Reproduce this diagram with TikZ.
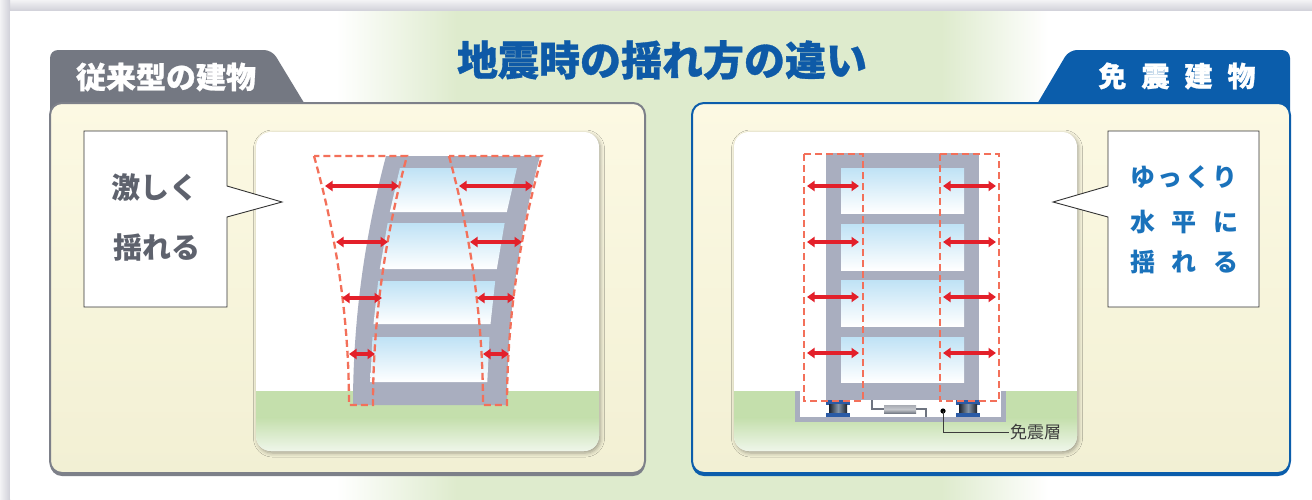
\documentclass[tikz,border=0pt]{standalone}
\usepackage{fontspec}
\newfontfamily\jp{Noto Sans CJK JP}
\newfontfamily\jpheavy[FakeBold=0.8]{Noto Sans CJK JP}
\usetikzlibrary{arrows.meta,shadows.blur}

\definecolor{titleblue}{HTML}{0E5AA7}
\definecolor{tabgray}{HTML}{747882}
\definecolor{edgegray}{HTML}{7D8089}
\definecolor{isoblue}{HTML}{0B5DAB}
\definecolor{creamtop}{HTML}{FCF9E3}
\definecolor{creambot}{HTML}{F2F0D4}
\definecolor{glowgreen}{HTML}{DEEBCD}
\definecolor{framegray}{HTML}{A9AEBF}
\definecolor{glassblue}{HTML}{BFE2F5}
\definecolor{grass}{HTML}{C4DFAC}
\definecolor{grasslight}{HTML}{EFF6EA}
\definecolor{quakered}{HTML}{E3202A}
\definecolor{swayred}{HTML}{F3705A}
\definecolor{speechgray}{HTML}{5E626D}
\definecolor{speechblue}{HTML}{1A72BB}
\definecolor{padblue}{HTML}{2B5BA6}
\definecolor{rubber}{HTML}{1C2430}
\definecolor{rubberhi}{HTML}{8595A8}
\definecolor{shadowgray}{HTML}{D0D0D8}
\definecolor{paper}{HTML}{F3F3F5}
\definecolor{damper}{HTML}{6E7480}
\definecolor{labelgray}{HTML}{3C3C3C}

% soft green band behind the title and between the panels
\pgfdeclarehorizontalshading{midglow}{100bp}{color(0bp)=(white); color(25bp)=(white);
  color(33.5bp)=(glowgreen); color(67.5bp)=(glowgreen); color(75bp)=(white); color(100bp)=(white)}

\begin{document}
\begin{tikzpicture}[x=1pt,y=-1pt,
  declare function={
    bl(\v)=353+33*((405-\v)/249)^2;  br(\v)=bl(\v)+154;
    dol(\v)=349-35*((405-\v)/249)^2; dil(\v)=373+34*((405-\v)/249)^2;
    dir(\v)=483-34*((405-\v)/249)^2; dor(\v)=507+35*((405-\v)/249)^2;},
  swayline/.style={draw=swayred, line width=2.3pt, dash pattern=on 7pt off 4pt},
  quakearrow/.style={draw=quakered, line width=3.3pt,
    {Triangle[length=7.5pt,width=10pt]}-{Triangle[length=7.5pt,width=10pt]}},
  pane/.style={top color=glassblue, bottom color=white},
  scenebox/.style={fill=white, rounded corners=15pt,
    blur shadow={shadow xshift=1.5pt, shadow yshift=-2pt, shadow blur radius=4pt, shadow opacity=35}},
  bubble/.style={fill=white, draw=black!80, line width=0.9pt},
  tabtext/.style={text=white, font=\jpheavy\bfseries\fontsize{30}{30}\selectfont},
  leftsay/.style={text=speechgray, font=\jp\bfseries\fontsize{29}{29}\selectfont},
  rightsay/.style={text=speechblue, font=\jp\bfseries\fontsize{25}{25}\selectfont},
  dampline/.style={draw=damper, line width=1.6pt},
]
\useasboundingbox (0,0) rectangle (1312,499);

% sheet with its shadow
\shade[top color=paper, bottom color=shadowgray] (0,0) rectangle (1312,11);
\shade[left color=paper, right color=shadowgray] (0,0) rectangle (10,499);
\fill[white] (10,11) rectangle (1312,499);
\fill[shading=midglow] (336,11) rectangle (1048,499);

% title
\node[text=titleblue, font=\jpheavy\bfseries\fontsize{41}{41}\selectfont] (title) at (662,60) {地震時の揺れ方の違い};

% tabs
\fill[tabgray, rounded corners=8pt] (50,118) -- (50,50) -- (272,50) -- (312,116) -- cycle;
\fill[isoblue, rounded corners=8pt] (1030,116) -- (1069,50) -- (1290,50) -- (1290,118) -- cycle;
\node[tabtext] (lefttab) at (166,77) {従来型の建物};
\node[tabtext, font=\jpheavy\bfseries\fontsize{28}{28}\selectfont] (righttab) at (1177,76)
  {免\hspace{15pt}震\hspace{15pt}建\hspace{15pt}物};

% panels
\fill[edgegray, rounded corners=12pt] (50,106) rectangle (645,476);
\draw[edgegray, line width=2pt, top color=creamtop, bottom color=creambot, rounded corners=12pt]
  (50,103) rectangle (645,473);
\fill[isoblue, rounded corners=12pt] (692,106) rectangle (1290,476);
\draw[isoblue, line width=2pt, top color=creamtop, bottom color=creambot, rounded corners=12pt]
  (692,103) rectangle (1290,473);

% ---------------- conventional building ----------------
\fill[scenebox] (256,132) rectangle (599,451);
\begin{scope}
  \clip[rounded corners=15pt] (256,132) rectangle (599,451);
  \fill[grass] (256,391) rectangle (599,418);
  \shade[top color=grass, bottom color=grasslight] (256,417.5) rectangle (599,451);
\end{scope}

% bent frame
\fill[framegray] plot[domain=156:405, samples=40, variable=\v] ({bl(\v)},\v)
  -- plot[domain=405:156, samples=40, variable=\v] ({br(\v)},\v) -- cycle;
\foreach \a/\b in {168/212, 223/269, 281/324, 337/382}
  \shade[pane] ({bl(\a)+17},\a) -- ({br(\a)-20},\a) -- ({br(\b)-20},\b) -- ({bl(\b)+17},\b) -- cycle;

% sway envelopes
\draw[swayline] plot[domain=156:405, samples=30, variable=\v] ({dol(\v)},\v)
  -- plot[domain=405:156, samples=30, variable=\v] ({dil(\v)},\v) -- cycle;
\draw[swayline] plot[domain=156:405, samples=30, variable=\v] ({dir(\v)},\v)
  -- plot[domain=405:156, samples=30, variable=\v] ({dor(\v)},\v) -- cycle;

% sway arrows
\foreach \y/\la/\lb/\ra/\rb [count=\i] in {186/325/399/459/533, 242/336/388/470/522,
                                         298/342/382/477/515, 354/349/375/483/509} {
  \coordinate (cl\i a) at (\la,\y); \coordinate (cl\i b) at (\lb,\y);
  \coordinate (cr\i a) at (\ra,\y); \coordinate (cr\i b) at (\rb,\y);
  \draw[quakearrow] (cl\i a) -- (cl\i b);
  \draw[quakearrow] (cr\i a) -- (cr\i b);
}

% speech bubble
\draw[bubble] (84,131) -- (227,131) -- (227,186) -- (282,202) -- (227,217) -- (227,307) -- (84,307) -- cycle;
\node[leftsay] (lsay1) at (155,188) {激しく};
\node[leftsay] (lsay2) at (157,247) {揺れる};

% ---------------- base-isolated building ----------------
\fill[scenebox] (734,132) rectangle (1077,451);
\begin{scope}
  \clip[rounded corners=15pt] (734,132) rectangle (1077,451);
  \fill[grass] (734,391) rectangle (1077,418);
  \shade[top color=grass, bottom color=grasslight] (734,417.5) rectangle (1077,451);
\end{scope}

% foundation pit
\fill[framegray] (795,391) rectangle (1006,422);
\fill[white] (800,391) rectangle (1001,417);

% frame and windows
\fill[framegray] (826,153) rectangle (979,400);
\foreach \a/\b in {168/213, 224/270, 280/326, 337/382}
  \shade[pane] (841,\a) rectangle (964,\b);

% rubber bearings
\foreach \c in {838, 968} {
  \fill[padblue] (\c-12,400) rectangle (\c+12,404.5);
  \shade[left color=rubber, right color=rubber, middle color=rubberhi] (\c-9,404.5) rectangle (\c+9,412.5);
  \fill[padblue] (\c-12,412.5) rectangle (\c+12,417);
}

% damper
\coordinate (dmpA) at (872,400);
\coordinate (dmpB) at (884,409);
\coordinate (dmpC) at (916,409);
\coordinate (dmpD) at (926,417);
\draw[dampline] (dmpA) |- (dmpB);
\shade[top color=damper!60, bottom color=damper, middle color=damper!40] (884,405) rectangle (916,413.5);
\draw[dampline] (dmpC) -| (dmpD);

% layer label
\fill[black] (943,411) circle (2.6pt) coordinate (layerdot);
\node[anchor=west, text=labelgray, font=\jp\fontsize{17}{17}\selectfont, inner sep=1pt] (layer) at (1009,432) {免震層};
\draw[labelgray, line width=1pt] (layerdot) |- (layer.west);

% sway envelopes
\draw[swayline] (804,154) rectangle (863,401);
\draw[swayline] (940,154) rectangle (999,401);

% sway arrows
\foreach \y [count=\i] in {186, 242, 297, 353} {
  \coordinate (il\i a) at (807,\y); \coordinate (il\i b) at (859,\y);
  \coordinate (ir\i a) at (943,\y); \coordinate (ir\i b) at (996,\y);
  \draw[quakearrow] (il\i a) -- (il\i b);
  \draw[quakearrow] (ir\i a) -- (ir\i b);
}

% speech bubble
\draw[bubble] (1108,131) -- (1259,131) -- (1259,307) -- (1108,307) -- (1108,217) -- (1053,202) -- (1108,186) -- cycle;
\node[rightsay] (rsay1) at (1184,177) {ゆ\hspace{2.5pt}っ\hspace{2.5pt}く\hspace{2.5pt}り};
\node[rightsay] (rsay2) at (1184,222) {水\hspace{16.5pt}平\hspace{16.5pt}に};
\node[rightsay] (rsay3) at (1184,262) {揺\hspace{16.5pt}れ\hspace{16.5pt}る};
\end{tikzpicture}
\end{document}
